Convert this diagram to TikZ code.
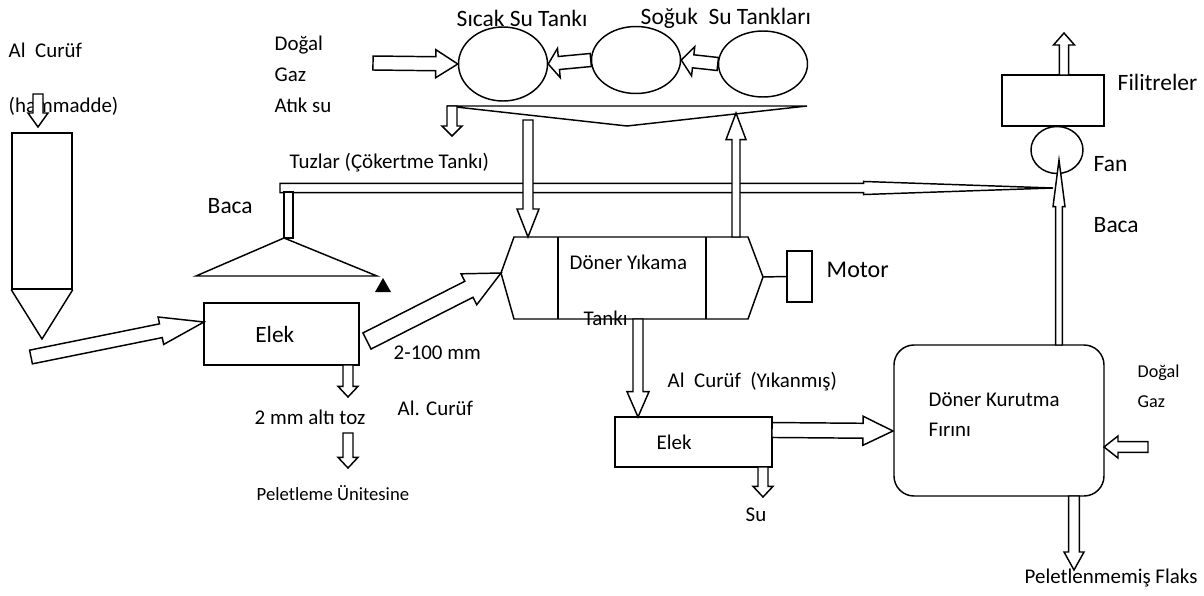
\documentclass[tikz,border=0pt]{standalone}
\usepackage{fontspec}
\setmainfont{Carlito}
\usetikzlibrary{calc,shapes.geometric}

\tikzset{
  lbl/.style={inner sep=0pt, anchor=west, font=\fontsize{15.7}{18}\selectfont},
  biglbl/.style={lbl, font=\fontsize{17.6}{20}\selectfont},
  smalllbl/.style={lbl, font=\fontsize{13.6}{16}\selectfont},
  unit/.style={draw, line width=1.1pt, inner sep=0pt},
  tank/.style={draw, ellipse, line width=1.1pt, inner sep=0pt, minimum width=66.75pt},
}

% hollow block arrow: from, to, shaft half width, head half width, head length
\newcommand{\fatarrow}[5]{%
  \coordinate (fa-s) at (#1);
  \coordinate (fa-e) at (#2);
  \coordinate (fa-n) at ($(fa-e)!#5!(fa-s)$);
  \draw[line width=1.1pt, fill=white]
    ($(fa-s)!#3!90:(fa-e)$) -- ($(fa-n)!#3!-90:(fa-s)$) -- ($(fa-n)!#4!-90:(fa-s)$)
    -- (fa-e) -- ($(fa-n)!#4!90:(fa-s)$) -- ($(fa-n)!#3!90:(fa-s)$)
    -- ($(fa-s)!#3!-90:(fa-e)$) -- cycle;}

\begin{document}
\begin{tikzpicture}[x=0.75pt, y=-0.75pt, line width=1.1pt]
  \useasboundingbox (0,0) rectangle (1204,596);

  \node[lbl] (raw) at (8,50) {Al\ \ Curüf};
  \node[lbl] (rawb) at (8,106) {(hammadde)};
  \node[unit, minimum width=45pt, minimum height=117pt] (hopper) at (42,211) {};
  \draw (hopper.south west) -- (42,339) coordinate (cone) -- (hopper.south east);
  \fatarrow{38,94}{38,127}{3.75pt}{7.5pt}{10.5pt}

  \node[unit, minimum width=116.25pt, minimum height=46.5pt,
        font=\fontsize{17.5}{20}\selectfont] (elek1) at (281.5,334) {Elek\hspace*{10pt}};
  \fatarrow{31,357}{204,322}{5.25pt}{10.5pt}{33pt}
  \fatarrow{348,365}{348,397}{3.75pt}{7.5pt}{8pt}
  \node[lbl] (toz) at (254,417) {2 mm altı toz};
  \fatarrow{348,433}{348,468}{3.75pt}{7.5pt}{8pt}
  \node[lbl, font=\fontsize{14}{16}\selectfont] (pel) at (256,493) {Peletleme Ünitesine};
  \node[lbl] (alc) at (397,408) {Al. Curüf};
  \node[lbl] (size) at (393,353) {2-100 mm};

  % baca ve davlumbaz
  \node[biglbl] (baca1) at (207,206) {Baca};
  \draw (196,276) -- (284,238) coordinate (hood) -- (377,276) -- cycle;
  \fill (375,292) -- (391,292) -- (383,278) -- cycle;
  \fatarrow{280,188}{1053,188}{3.4pt}{4.9pt}{142pt}
  \draw[fill=white] (284,192) rectangle (293,238);
  \node[lbl] (tuz) at (289,163) {Tuzlar (Çökertme Tankı)};

  % tanklar
  \node[lbl] (dg1) at (274,45) {Doğal};
  \node[lbl] (dg2) at (274,75) {Gaz};
  \node[lbl] (dg3) at (274,105) {Atık su};
  \node[tank, minimum height=55.5pt] (tank1) at (503,64) {};
  \node[tank, minimum height=50.25pt] (tank2) at (636,60) {};
  \node[tank, minimum height=49.5pt] (tank3) at (763,64) {};
  \node[biglbl] (sicak) at (456,18) {Sıcak Su Tankı};
  \node[biglbl] (soguk) at (640,18) {Soğuk\ \ Su Tankları};
  \fatarrow{373,63}{tank1.west}{5.25pt}{10.5pt}{16.5pt}
  \fatarrow{tank2.west}{tank1.east}{4.9pt}{11pt}{8pt}
  \fatarrow{tank3.west}{tank2.east}{4.9pt}{11pt}{9pt}
  \draw (447,106) coordinate (fun-l) -- (807,106) coordinate (fun-r) -- (627,126) coordinate (fun-b) -- cycle;
  \fatarrow{452,106}{452,136}{3.75pt}{7.5pt}{7.5pt}

  % doner yikama tanki
  \coordinate (dr-l) at (501,273);
  \coordinate (dr-r) at (763,277);
  \draw (dr-l) -- (514,237) -- (748,237) -- (dr-r) -- (748,319) -- (514,319) -- cycle;
  \draw (558,237) -- (558,319) (706,237) -- (706,319);
  \node[lbl] (drum) at (569,262) {Döner Yıkama};
  \node[lbl] (drumb) at (583,318) {Tankı};
  \fatarrow{528,120}{528,237}{3.75pt}{8.25pt}{21pt}
  \fatarrow{736,237}{736,113}{3pt}{7.5pt}{20pt}
  \fatarrow{367,341}{dr-l}{6.75pt}{13pt}{27pt}
  \node[unit, minimum width=18.75pt, minimum height=38.25pt] (motor) at (799.5,276.5) {};
  \draw (dr-r) -- (motor.west);
  \node[lbl, font=\fontsize{18}{20}\selectfont] (motl) at (826,270) {Motor};

  % elek ve firin
  \fatarrow{638,319}{638,417}{3.75pt}{8.25pt}{19pt}
  \node[lbl] (yik) at (667,382) {Al\ \ Curüf\ \ (Yıkanmış)};
  \node[unit, minimum width=117.75pt, minimum height=37.5pt] (elek2) at (693.5,442) {};
  \node[lbl] (elek2l) at (656,442) {Elek};
  \fatarrow{763,467}{763,497}{3.75pt}{7.5pt}{8pt}
  \node[lbl] (su) at (745,515) {Su};
  \node[unit, rounded corners=15pt, minimum width=157.5pt, minimum height=113.25pt] (kiln) at (999,420.5) {};
  \node[lbl] (kil1) at (928,400) {Döner Kurutma};
  \node[lbl] (kil2) at (928,430) {Fırını};
  \fatarrow{772,430}{893,431}{5.6pt}{10.9pt}{22.5pt}
  \node[smalllbl] (dg4) at (1137,373) {Doğal};
  \node[smalllbl] (dg5) at (1137,402) {Gaz};
  \fatarrow{1148,447}{1104,447}{4.1pt}{8.25pt}{10.5pt}
  \fatarrow{1074,496}{1074,570}{4.1pt}{7.5pt}{13.5pt}
  \node[lbl] (flaks) at (1024,578) {Peletlenmemiş Flaks};

  % fan ve filtre
  \node[unit, minimum width=76.5pt, minimum height=38.25pt] (filt) at (1053,100.5) {};
  \node[tank, minimum width=39pt, minimum height=35.25pt] (fan) at (1057,150) {};
  \fatarrow{1059,345}{1059,160}{2.6pt}{4.5pt}{35pt}
  \fatarrow{1064,75}{1064,33}{3.4pt}{7.9pt}{9pt}
  \node[biglbl] (filtl) at (1117,82) {Filitreler};
  \node[biglbl] (fanl) at (1093,164) {Fan};
  \node[biglbl] (baca2) at (1093,225) {Baca};
\end{tikzpicture}
\end{document}
